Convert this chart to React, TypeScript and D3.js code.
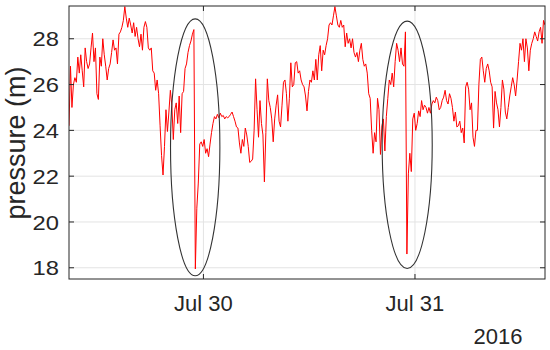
import React from "react";
import * as d3 from "d3";

// ---- data ----
const startTime = Date.UTC(2016, 6, 29, 8, 45);
const stepMinutes = 10;
const endTime = Date.UTC(2016, 6, 31, 14, 45);

const pressure = [
  24.2, 26.8, 25.0, 26.0, 26.3, 26.1, 27.2, 26.5, 27.3, 26.6,
  25.9, 27.6, 27.0, 26.7, 26.9, 27.6, 28.25, 27.0, 27.6, 25.6,
  25.35, 27.2, 26.8, 28.0, 27.3, 26.8, 26.2, 26.7, 26.9, 27.4,
  27.95, 27.5, 27.6, 26.9, 28.2, 28.3, 28.5, 28.8, 29.4, 28.9,
  28.5, 28.9, 28.6, 28.25, 28.7, 28.1, 28.5, 28.0, 27.65, 28.2,
  27.5, 28.5, 28.75, 28.5, 27.6, 27.5, 27.6, 26.6, 26.5, 25.75,
  26.2, 25.6, 24.2, 22.9, 22.05, 23.3, 24.9, 23.95, 24.8, 25.75,
  25.1, 23.6, 24.9, 25.2, 24.3, 25.5, 23.9, 25.6, 25.7, 26.7,
  26.9, 27.4, 27.7, 27.9, 28.2, 28.4, 17.95, 20.6, 21.7, 23.4,
  23.5, 23.3, 23.6, 23.0, 23.2, 22.85, 23.4, 23.9, 24.3, 24.6,
  24.5, 24.7, 24.55, 24.75, 24.6, 24.65, 24.5, 24.6, 24.55, 24.6,
  24.7, 24.8, 24.6, 24.4, 24.15, 24.1, 23.45, 23.0, 23.6, 23.3,
  24.1, 23.8, 23.3, 22.6, 22.65, 22.75, 24.0, 26.25, 24.9, 23.7,
  25.3, 24.3, 23.8, 21.75, 23.9, 26.25, 25.3, 25.0, 24.5, 23.5,
  24.5, 25.1, 25.55, 24.4, 24.15, 25.1, 26.1, 26.2, 25.6, 24.4,
  25.4, 26.95, 25.9, 26.0, 26.95, 27.0, 26.5, 26.6, 26.2, 26.0,
  25.9, 25.5, 24.85, 25.7, 26.2, 26.1, 26.6, 26.2, 27.1, 26.2,
  27.3, 27.7, 26.6, 27.5, 27.3, 27.7, 28.0, 28.6, 28.7, 28.6,
  29.0, 29.4, 29.0, 28.6, 28.5, 28.8, 28.5, 28.6, 27.65, 28.25,
  27.8, 28.0, 27.6, 28.0, 27.4, 27.2, 27.4, 27.0, 27.5, 27.8,
  27.1, 26.8, 26.9, 26.5, 25.6, 25.4, 24.0, 23.0, 23.9, 23.5,
  25.4, 24.9, 22.95, 24.2, 24.5, 23.1, 24.6, 25.4, 26.2, 26.0,
  26.5, 25.9, 27.0, 27.8, 27.5, 27.0, 27.6, 26.9, 26.8, 28.3,
  18.6, 22.1, 23.0, 22.2, 24.5, 24.75, 24.0, 24.3, 24.85, 24.6,
  25.3, 24.9, 25.1, 25.0, 24.75, 25.0, 24.75, 25.15, 25.3, 25.2,
  25.45, 25.3, 24.9, 25.0, 25.3, 25.45, 25.75, 25.3, 25.15, 25.6,
  25.4, 25.0, 24.4, 24.8, 24.15, 24.2, 24.4, 23.9, 24.1, 23.45,
  25.9, 26.1, 25.8, 24.9, 25.2, 23.7, 23.3, 24.0, 24.0, 26.0,
  27.1, 27.2, 26.6, 26.1, 26.7, 26.9, 26.6, 26.1, 25.9, 24.1,
  25.7, 25.2, 24.9, 24.15, 25.0, 26.2, 25.8, 24.8, 24.5, 25.0,
  25.5, 25.9, 26.3, 26.0, 25.5, 26.2, 27.0, 27.8, 27.5, 28.0,
  27.0, 28.0, 27.6, 26.6, 27.5, 27.8, 28.0, 28.3, 28.1, 27.9,
  28.3, 28.5, 27.8, 28.8, 28.6,
];

const xTickTimes = [Date.UTC(2016, 6, 30), Date.UTC(2016, 6, 31)];
const xTickLabels = ["Jul 30", "Jul 31"];
const yTicks = [18, 20, 22, 24, 26, 28];
const yDomain = [17.51, 29.43];
const yearLabel = "2016";
const yAxisLabel = "pressure (m)";

// annotation ellipses (centre time, half-width in hours, value range)
const ellipseCenters = [Date.UTC(2016, 6, 29, 23, 4), Date.UTC(2016, 6, 30, 23, 7)];
const ellipseHalfHours = [2.8, 2.84];
const ellipseLow = [17.65, 17.97];
const ellipseHigh = [28.87, 28.77];

// ---- layout ----
const W = 550;
const H = 350;
const L = 69;
const R = 545;
const T = 6;
const B = 279;
const AXIS = "#262626";
const GRID = "#e3e3e3";
const FONT = "'Liberation Sans', Arial, Helvetica, sans-serif";

export default function App() {
  const x = d3.scaleUtc().domain([startTime, endTime]).range([L, R]);
  const y = d3.scaleLinear().domain(yDomain).range([B, T]);

  const pts = pressure.map((v, i) => [startTime + i * stepMinutes * 60000, v] as [number, number]);
  const line = d3
    .line<[number, number]>()
    .x((d) => x(d[0]))
    .y((d) => y(d[1]));

  const tickLen = 5;

  return (
    <svg
      width={W}
      height={H}
      style={{ position: "absolute", left: 0, top: 0, background: "#fff" }}
    >
      <rect x={0} y={0} width={W} height={H} fill="#fff" />
      {/* grid */}
      {yTicks.map((t) => (
        <line key={"gy" + t} x1={L} x2={R} y1={y(t)} y2={y(t)} stroke={GRID} strokeWidth={1} />
      ))}
      {xTickTimes.map((t) => (
        <line key={"gx" + t} x1={x(t)} x2={x(t)} y1={T} y2={B} stroke={GRID} strokeWidth={1} />
      ))}

      {/* data */}
      <defs>
        <clipPath id="clip">
          <rect x={L} y={T} width={R - L} height={B - T} />
        </clipPath>
      </defs>
      <path d={line(pts) || ""} fill="none" stroke="#ff0000" strokeWidth={1} strokeLinejoin="round" clipPath="url(#clip)" />

      {/* ellipses */}
      {ellipseCenters.map((c, i) => {
        const cx = x(c);
        const rx = x(c + ellipseHalfHours[i] * 3600000) - cx;
        const cy = (y(ellipseLow[i]) + y(ellipseHigh[i])) / 2;
        const ry = (y(ellipseLow[i]) - y(ellipseHigh[i])) / 2;
        return <ellipse key={"e" + i} cx={cx} cy={cy} rx={rx} ry={ry} fill="none" stroke="#333" strokeWidth={1.1} />;
      })}

      {/* box */}
      <rect x={L} y={T} width={R - L} height={B - T} fill="none" stroke={AXIS} strokeWidth={1} />

      {/* ticks */}
      {yTicks.map((t) => (
        <g key={"ty" + t}>
          <line x1={L} x2={L + tickLen} y1={y(t)} y2={y(t)} stroke={AXIS} />
          <line x1={R} x2={R - tickLen} y1={y(t)} y2={y(t)} stroke={AXIS} />
          <text
            transform={`translate(${L - 10},${y(t)}) scale(1.08,0.95)`}
            dy="0.36em"
            textAnchor="end"
            fontFamily={FONT}
            fontSize={22}
            fill={AXIS}
          >
            {t}
          </text>
        </g>
      ))}
      {xTickTimes.map((t, i) => (
        <g key={"tx" + t}>
          <line x1={x(t)} x2={x(t)} y1={B} y2={B - tickLen} stroke={AXIS} />
          <line x1={x(t)} x2={x(t)} y1={T} y2={T + tickLen} stroke={AXIS} />
          <text x={x(t)} y={311} textAnchor="middle" fontFamily={FONT} fontSize={22} fill={AXIS}>
            {xTickLabels[i]}
          </text>
        </g>
      ))}
      <text x={498} y={344} textAnchor="middle" fontFamily={FONT} fontSize={22} fill={AXIS}>
        {yearLabel}
      </text>
      <text
        transform={`translate(25,143) rotate(-90)`}
        textAnchor="middle"
        fontFamily={FONT}
        fontSize={27}
        fill={AXIS}
      >
        {yAxisLabel}
      </text>
    </svg>
  );
}
